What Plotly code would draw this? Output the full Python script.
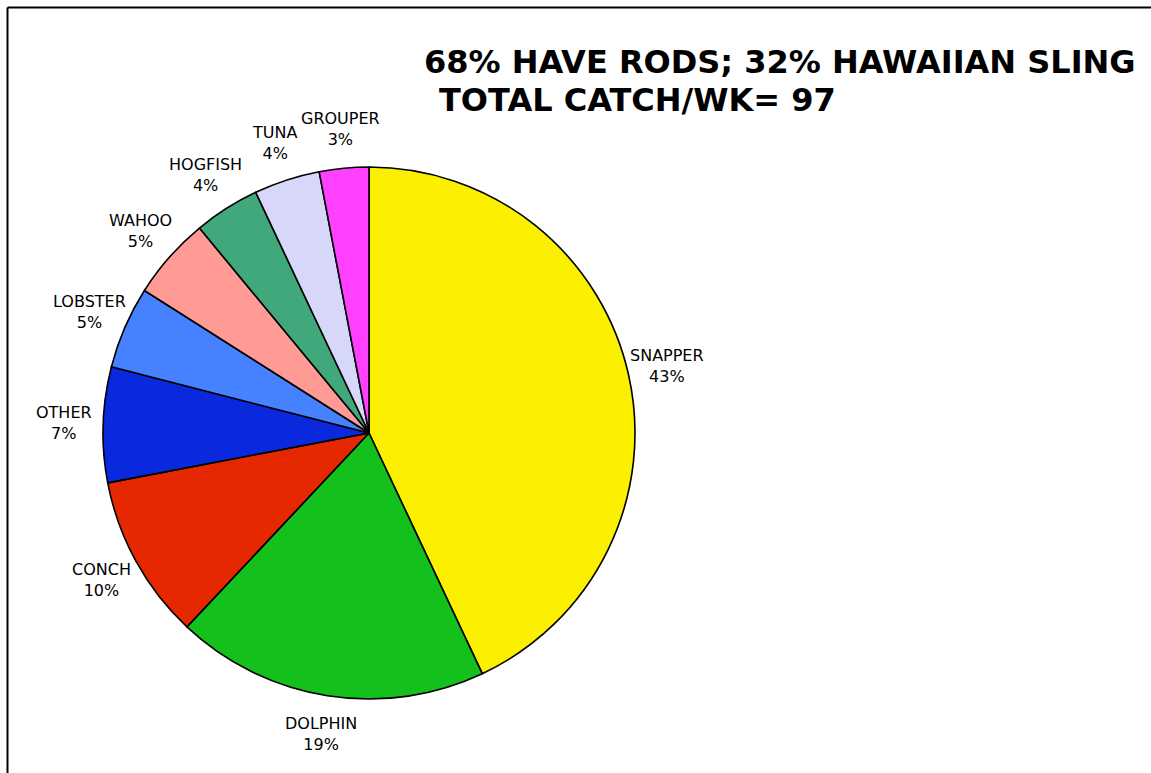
import math
import plotly.graph_objects as go

# Weekly catch breakdown by species (percent of total)
species = ["SNAPPER", "DOLPHIN", "CONCH", "OTHER", "LOBSTER",
           "WAHOO", "HOGFISH", "TUNA", "GROUPER"]
share_pct = [43, 19, 10, 7, 5, 5, 4, 4, 3]
slice_colors = ["#FAF000", "#14C11C", "#E52800", "#0A28DC", "#4682FF",
                "#FF9A94", "#40A87A", "#D7D7FA", "#FF40FF"]

title_line1 = "68% HAVE RODS; 32% HAWAIIAN SLING"
title_line2 = "TOTAL CATCH/WK= 97"

W, H = 1151, 773

# pie placement in pixels (centre and radius)
CX, CY, R = 369, 433, 266
LABEL_R = 305  # distance of slice labels from the centre

fig = go.Figure(go.Pie(
    labels=species,
    values=share_pct,
    sort=False,
    direction="clockwise",
    rotation=0,
    marker=dict(colors=slice_colors, line=dict(color="black", width=1.6)),
    textinfo="none",
    showlegend=False,
    domain=dict(x=[(CX - R) / W, (CX + R) / W],
                y=[(H - CY - R) / H, (H - CY + R) / H]),
    hoverinfo="label+percent",
))

# slice labels placed along each slice's mid-angle (clockwise from 12 o'clock)
annotations = []
total = sum(share_pct)
cum = 0.0
for name, v in zip(species, share_pct):
    mid = (cum + v / 2) / total * 2 * math.pi
    cum += v
    px = CX + LABEL_R * math.sin(mid)
    py = CY - LABEL_R * math.cos(mid)
    annotations.append(dict(
        text=f"{name}<br>{v}%", xref="paper", yref="paper",
        x=px / W, y=1 - py / H, xanchor="center", yanchor="middle",
        showarrow=False, align="center",
        font=dict(family="DejaVu Sans", size=16, color="black"),
    ))

annotations += [
    dict(text="<b>" + title_line1 + "</b>", xref="paper", yref="paper",
         x=422 / W, y=1 - 41 / H, xanchor="left", yanchor="top",
         showarrow=False,
         font=dict(family="DejaVu Sans", size=32, color="black")),
    dict(text="<b>" + title_line2 + "</b>", xref="paper", yref="paper",
         x=437 / W, y=1 - 79 / H, xanchor="left", yanchor="top",
         showarrow=False,
         font=dict(family="DejaVu Sans", size=32, color="black")),
]

fig.update_layout(
    width=W, height=H,
    margin=dict(l=0, r=0, t=0, b=0),
    paper_bgcolor="white",
    plot_bgcolor="white",
    shapes=[
        dict(type="line", xref="paper", yref="paper",
             x0=7.5 / W, x1=1.0, y0=1 - 7.5 / H, y1=1 - 7.5 / H,
             line=dict(color="black", width=2)),
        dict(type="line", xref="paper", yref="paper",
             x0=7.5 / W, x1=7.5 / W, y0=0, y1=1 - 7.5 / H,
             line=dict(color="black", width=2)),
    ],
    annotations=annotations,
)

fig.write_html("out.html")
